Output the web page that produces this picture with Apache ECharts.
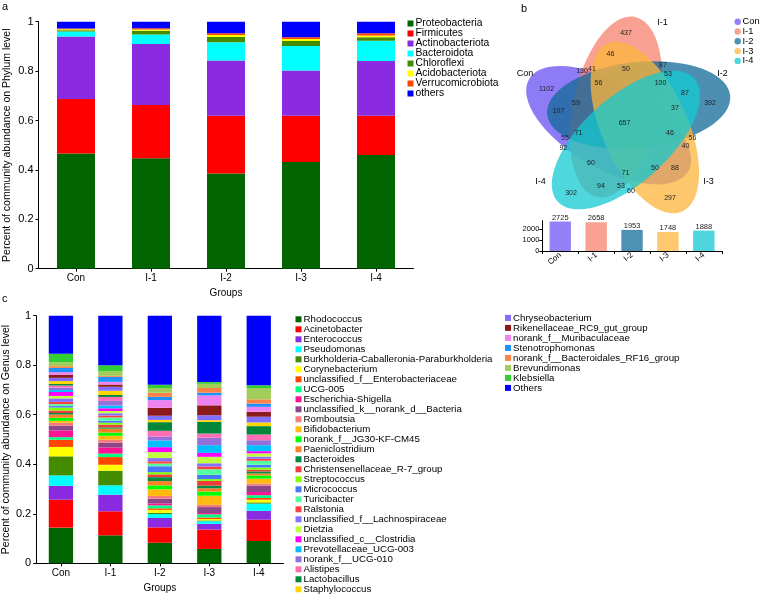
<!DOCTYPE html>
<html><head><meta charset="utf-8">
<script src="https://cdn.jsdelivr.net/npm/echarts@6/dist/echarts.min.js"></script>
<style>html,body{margin:0;padding:0;background:#fff}#c{width:760px;height:595px}</style>
</head><body><div id="c"></div>
<script>
// ---------- data ----------
const groups = ['Con', 'I-1', 'I-2', 'I-3', 'I-4'];

const phylumNames = ['Proteobacteria', 'Firmicutes', 'Actinobacteriota', 'Bacteroidota', 'Chloroflexi', 'Acidobacteriota', 'Verrucomicrobiota', 'others'];
const phylumColors = ['#006400', '#ff0000', '#8a2be2', '#00ffff', '#458b00', '#ffff00', '#ff4500', '#0000ff'];
const phylumCon = [0.466, 0.221, 0.253, 0.020, 0.005, 0.004, 0.003, 0.028];
const phylumI1  = [0.447, 0.216, 0.247, 0.038, 0.015, 0.005, 0.005, 0.027];
const phylumI2  = [0.385, 0.234, 0.224, 0.074, 0.021, 0.008, 0.007, 0.047];
const phylumI3  = [0.432, 0.187, 0.183, 0.100, 0.020, 0.008, 0.007, 0.063];
const phylumI4  = [0.460, 0.159, 0.222, 0.082, 0.014, 0.007, 0.009, 0.047];

const genusNames = ['Rhodococcus','Acinetobacter','Enterococcus','Pseudomonas','Burkholderia-Caballeronia-Paraburkholderia','Corynebacterium','unclassified_f__Enterobacteriaceae','UCG-005','Escherichia-Shigella','unclassified_k__norank_d__Bacteria','Romboutsia','Bifidobacterium','norank_f__JG30-KF-CM45','Paeniclostridium','Bacteroides','Christensenellaceae_R-7_group','Streptococcus','Micrococcus','Turicibacter','Ralstonia','unclassified_f__Lachnospiraceae','Dietzia','unclassified_c__Clostridia','Prevotellaceae_UCG-003','norank_f__UCG-010','Alistipes','Lactobacillus','Staphylococcus','Chryseobacterium','Rikenellaceae_RC9_gut_group','norank_f__Muribaculaceae','Stenotrophomonas','norank_f__Bacteroidales_RF16_group','Brevundimonas','Klebsiella','Others'];
const genusColors = ['#006400','#ff0000','#8a2be2','#00ffff','#458b00','#ffff00','#ff4500','#00ff7f','#ff1493','#8b4789','#f47c7c','#ffb90f','#00ff00','#ff7f24','#008b45','#ee3b3b','#7fff00','#4876ff','#54ff9f','#ff4040','#8470ff','#c0ff3e','#ff00ff','#00bfff','#9370db','#ff6eb4','#00873c','#ffd700','#836fff','#8b1a1a','#ee82ee','#1e90ff','#ff8247','#a2cd5a','#32cd32','#0000ff'];
const genusCon = [0.144,0.113,0.056,0.042,0.077,0.038,0.029,0.0105,0.027,0.019,0.012,0.008,0.0125,0.013,0.006,0.010,0.012,0.006,0.008,0.009,0.014,0.010,0.016,0.008,0.010,0.008,0.006,0.012,0.013,0.012,0.011,0.017,0.007,0.016,0.034,0.154];
const genusI1  = [0.113,0.097,0.067,0.038,0.059,0.024,0.031,0.014,0.025,0.019,0.012,0.016,0.013,0.016,0.005,0.011,0.008,0.008,0.013,0.008,0.009,0.009,0.011,0.011,0.019,0.016,0.008,0.017,0.016,0.009,0.011,0.020,0.004,0.019,0.024,0.200];
const genusI2  = [0.083,0.062,0.038,0.016,0.005,0.012,0.006,0.012,0.008,0.019,0.011,0.027,0.016,0.017,0.016,0.011,0.009,0.024,0.011,0.009,0.013,0.024,0.020,0.027,0.016,0.023,0.035,0.009,0.017,0.032,0.031,0.013,0.017,0.019,0.013,0.279];
const genusI3  = [0.058,0.078,0.023,0.011,0.003,0.006,0.006,0.013,0.005,0.024,0.009,0.037,0.017,0.013,0.011,0.019,0.007,0.017,0.023,0.011,0.013,0.026,0.016,0.031,0.030,0.017,0.047,0.007,0.020,0.040,0.040,0.011,0.019,0.017,0.007,0.268];
const genusI4  = [0.090,0.086,0.036,0.029,0.005,0.011,0.007,0.011,0.013,0.026,0.008,0.020,0.013,0.008,0.008,0.007,0.009,0.011,0.016,0.008,0.009,0.013,0.009,0.024,0.020,0.023,0.034,0.015,0.023,0.020,0.020,0.013,0.017,0.046,0.011,0.281];

const vennSets = ['Con', 'I-1', 'I-2', 'I-3', 'I-4'];
const vennTotals = [2725, 2658, 1953, 1748, 1888];
const vennCounts = [1102,437,392,297,302,130,41,46,50,87,53,56,100,87,107,59,37,657,71,46,55,56,40,92,60,71,50,88,94,53,60];

// ---------- layout / style ----------
const FONT = '"Liberation Sans", Arial, sans-serif';
const vennSolid = ['#9381f7', '#f9a192', '#4d91b5', '#fdc86f', '#4fd6dc'];
const vennFill  = ['rgba(104,80,243,0.75)', 'rgba(245,128,109,0.75)', 'rgba(16,105,152,0.75)', 'rgba(252,181,59,0.75)', 'rgba(19,202,208,0.75)'];
const vennEllipses = [ // cx, cy, screen angle (deg)
  [608.7, 125.2, 30], [616, 107, -78], [638.7, 105, -6], [644.9, 127.5, 66], [626, 140, 138]
];
const vennLabelPos = [[546.5,89],[626,33],[710,103.5],[670,198.5],[571,193.5],[582,71.5],[592,69.5],[610.5,54],[626,69.5],[663,65],[668,74],[598.5,83.5],[660.5,83.5],[685,93.5],[558.5,111],[576,103.5],[675,108.5],[624.5,123.5],[578.5,133.5],[670,133.5],[565,138.5],[692.5,138.5],[685.5,146],[563.5,148.5],[591,163.5],[625.5,173.5],[655,168.5],[675,168.5],[601,186],[621,186],[631,191]];
const vennSetLabelPos = [[525,74],[662.5,23],[722.5,74],[708.5,182],[540.5,182]];

const byGroupPhylum = [phylumCon, phylumI1, phylumI2, phylumI3, phylumI4];
const byGroupGenus = [genusCon, genusI1, genusI2, genusI3, genusI4];

const series = [];
phylumNames.forEach((n, i) => series.push({
  name: n, type: 'bar', stack: 'phylum', xAxisIndex: 0, yAxisIndex: 0, barWidth: 38,
  itemStyle: { color: phylumColors[i] }, data: byGroupPhylum.map(g => g[i])
}));
series.push({
  name: 'OTU total', type: 'bar', xAxisIndex: 1, yAxisIndex: 1, barWidth: 21.4,
  data: vennTotals.map((v, i) => ({ value: v, itemStyle: { color: vennSolid[i] } })),
  label: { show: true, position: 'top', distance: 0, fontSize: 7.5, color: '#222', fontFamily: FONT }
});
genusNames.forEach((n, i) => series.push({
  name: n, type: 'bar', stack: 'genus', xAxisIndex: 2, yAxisIndex: 2, barWidth: 24.3,
  itemStyle: { color: genusColors[i] }, data: byGroupGenus.map(g => g[i])
}));

const axisCommon = {
  axisLine: { show: true, lineStyle: { color: '#000', width: 1 } },
  axisTick: { show: true, length: 3, lineStyle: { color: '#000' } },
  splitLine: { show: false },
  axisLabel: { color: '#000', fontFamily: FONT },
  nameTextStyle: { color: '#000', fontFamily: FONT }
};
function ax(extra) {
  const o = JSON.parse(JSON.stringify(axisCommon));
  for (const k in extra) {
    if (typeof extra[k] === 'object' && !Array.isArray(extra[k]) && o[k]) Object.assign(o[k], extra[k]);
    else o[k] = extra[k];
  }
  return o;
}

const graphic = [];
[['a', 2, 1], ['b', 521, 3], ['c', 2, 293]].forEach(t => graphic.push({
  type: 'text', x: t[1], y: t[2], style: { text: t[0], fontSize: 11, fontFamily: FONT, fill: '#000' }
}));
vennEllipses.forEach((e, i) => graphic.push({
  type: 'ellipse', x: e[0], y: e[1], rotation: -e[2] * Math.PI / 180,
  shape: { cx: 0, cy: 0, rx: 92, ry: 43 }, style: { fill: vennFill[i] }, z: 1
}));
vennCounts.forEach((v, i) => graphic.push({
  type: 'text', x: vennLabelPos[i][0], y: vennLabelPos[i][1], z: 5,
  style: { text: String(v), fontSize: 7, fontFamily: FONT, fill: '#222', align: 'center', verticalAlign: 'middle', textAlign: 'center', textVerticalAlign: 'middle' }
}));
vennSets.forEach((s, i) => {
  graphic.push({
    type: 'text', x: vennSetLabelPos[i][0], y: vennSetLabelPos[i][1], z: 5,
    style: { text: s, fontSize: 9, fontFamily: FONT, fill: '#000', align: 'center', verticalAlign: 'middle', textAlign: 'center', textVerticalAlign: 'middle' }
  });
  graphic.push({ type: 'circle', x: 737.7, y: 21.7 + i * 9.8, shape: { cx: 0, cy: 0, r: 3.2 }, style: { fill: vennSolid[i] }, z: 5 });
  graphic.push({
    type: 'text', x: 742.5, y: 21.7 + i * 9.8, z: 5,
    style: { text: s, fontSize: 9.3, fontFamily: FONT, fill: '#000', align: 'left', verticalAlign: 'middle', textAlign: 'left', textVerticalAlign: 'middle' }
  });
});

const legendCommon = {
  orient: 'vertical', icon: 'rect', itemWidth: 6, itemHeight: 6, itemGap: 0, padding: 0,
  selectedMode: false
};

const option = {
  animation: false,
  backgroundColor: '#fff',
  textStyle: { fontFamily: FONT },
  grid: [
    { left: 38.5, top: 21.7, width: 375, height: 247 },
    { left: 542.3, top: 220.7, width: 179.5, height: 30.3 },
    { left: 35, top: 315.7, width: 248.5, height: 247.6 }
  ],
  xAxis: [
    ax({ gridIndex: 0, type: 'category', data: groups, axisTick: { alignWithLabel: true },
      axisLabel: { fontSize: 10, margin: 5 }, name: 'Groups', nameLocation: 'middle', nameGap: 20, nameTextStyle: { fontSize: 10 } }),
    ax({ gridIndex: 1, type: 'category', data: groups, axisTick: { alignWithLabel: false },
      axisLabel: { fontSize: 8, margin: 3, rotate: 40 } }),
    ax({ gridIndex: 2, type: 'category', data: groups, axisTick: { alignWithLabel: true },
      axisLabel: { fontSize: 10, margin: 5 }, name: 'Groups', nameLocation: 'middle', nameGap: 20, nameTextStyle: { fontSize: 10 } })
  ],
  yAxis: [
    ax({ gridIndex: 0, type: 'value', min: 0, max: 1, interval: 0.2,
      axisLabel: { fontSize: 11, margin: 5 },
      name: 'Percent of community abundance on Phylum level', nameLocation: 'middle', nameGap: 26, nameTextStyle: { fontSize: 10.5 } }),
    ax({ gridIndex: 1, type: 'value', min: 0, max: 2800, interval: 1000,
      axisLabel: { fontSize: 7.5, margin: 3, showMaxLabel: false, formatter: v => (v % 1000 === 0 ? String(v) : '') } }),
    ax({ gridIndex: 2, type: 'value', min: 0, max: 1, interval: 0.2,
      axisLabel: { fontSize: 11, margin: 5 },
      name: 'Percent of community abundance on Genus level', nameLocation: 'middle', nameGap: 23, nameTextStyle: { fontSize: 10.5 } })
  ],
  legend: [
    Object.assign({}, legendCommon, { data: phylumNames, left: 407.5, top: 18.5,
      textStyle: { fontSize: 10.3, lineHeight: 9.7, color: '#000', fontFamily: FONT, padding: [0, 0, 0, -3] } }),
    Object.assign({}, legendCommon, { data: genusNames.slice(0, 28), left: 295.5, top: 314.3,
      textStyle: { fontSize: 9.7, lineHeight: 9.54, color: '#000', fontFamily: FONT, padding: [0, 0, 0, -3] } }),
    Object.assign({}, legendCommon, { data: genusNames.slice(28), left: 505, top: 312.9,
      textStyle: { fontSize: 9.7, lineHeight: 9.66, color: '#000', fontFamily: FONT, padding: [0, 0, 0, -3] } })
  ],
  series: series,
  graphic: graphic
};

const chart = echarts.init(document.getElementById('c'), null, { renderer: 'canvas' });
chart.setOption(option);
</script>
</body></html>
